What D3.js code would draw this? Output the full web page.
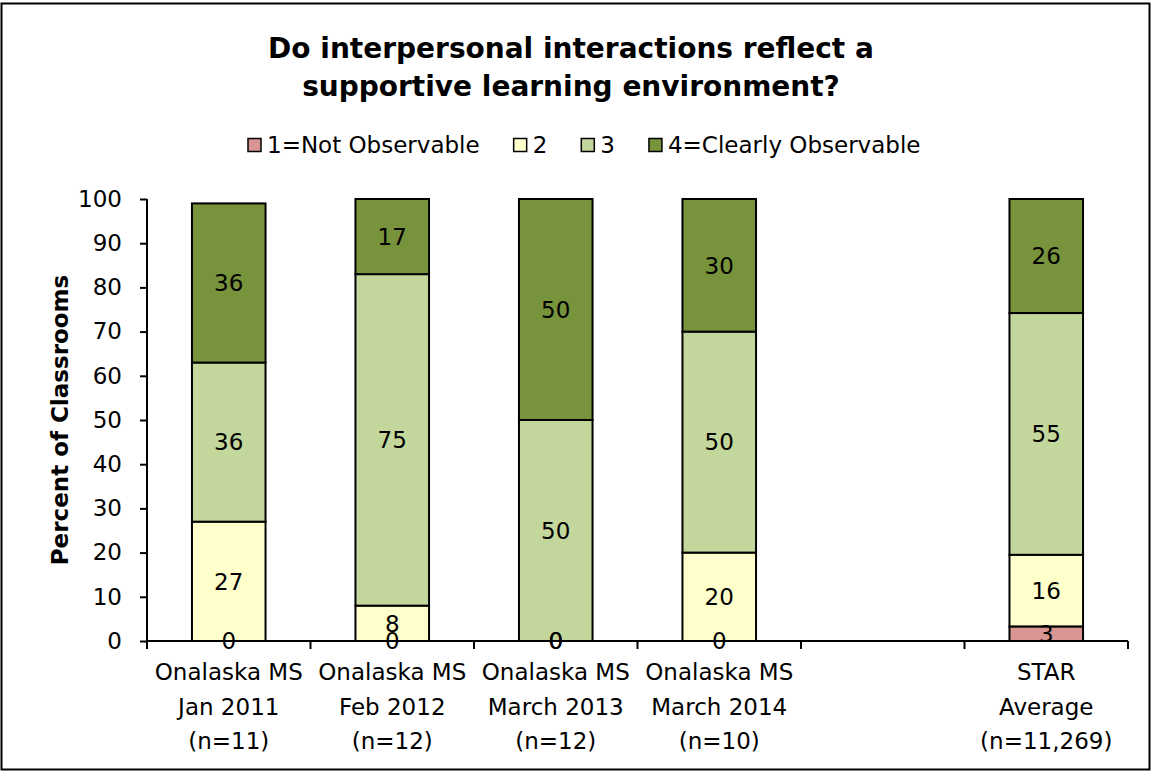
<!DOCTYPE html>
<html>
<head>
<meta charset="UTF-8">
<title>Supportive learning environment</title>
<script src="https://d3js.org/d3.v7.min.js"></script>
<style>
    body { margin: 0; background: white; }
    svg { display: block; }
    text { font-family: "DejaVu Sans", Verdana, sans-serif; fill: black; }
</style>
</head>
<body>
<svg id="chart" width="1152" height="771"></svg>
<script>
// カテゴリ（空のスロットを1つ含む）
const categories = [
    ["Onalaska MS", "Jan 2011", "(n=11)"],
    ["Onalaska MS", "Feb 2012", "(n=12)"],
    ["Onalaska MS", "March 2013", "(n=12)"],
    ["Onalaska MS", "March 2014", "(n=10)"],
    null,
    ["STAR", "Average", "(n=11,269)"]
];
const seriesNames = ["1=Not Observable", "2", "3", "4=Clearly Observable"];
const seriesColors = ["#D99594", "#FFFFCC", "#C3D69B", "#77933C"];

// 各系列の値（空スロットは null）
const notObservable = [0, 0, 0, 0, null, 3.3];
const level2 = [27, 8, 0, 20, null, 16.2];
const level3 = [36, 75, 50, 50, null, 54.7];
const clearlyObservable = [36, 17, 50, 30, null, 25.8];
const yTicks = [0, 10, 20, 30, 40, 50, 60, 70, 80, 90, 100];

const series = [notObservable, level2, level3, clearlyObservable];

const svg = d3.select("#chart");
const W = 1152, H = 771;
const margin = { left: 147, right: 24, top: 199, bottom: 130 };

// 外枠
svg.append("rect")
    .attr("x", 1.5).attr("y", 3.5)
    .attr("width", W - 4).attr("height", H - 5)
    .attr("fill", "none").attr("stroke", "black").attr("stroke-width", 2);

const x = d3.scaleBand()
    .domain(d3.range(categories.length))
    .range([margin.left, W - margin.right])
    .paddingInner(0.55).paddingOuter(0.275);
const xSlot = d3.scaleBand()
    .domain(d3.range(categories.length))
    .range([margin.left, W - margin.right]);
const y = d3.scaleLinear().domain([0, 100]).range([H - margin.bottom, margin.top]);

// タイトル
svg.append("text")
    .attr("text-anchor", "middle")
    .style("font-weight", "bold").style("font-size", "28px")
    .selectAll("tspan")
    .data(["Do interpersonal interactions reflect a", "supportive learning environment?"])
    .join("tspan")
    .attr("x", 571)
    .attr("y", (d, i) => 58 + i * 38)
    .text(d => d);

// 凡例（文字幅から並べる）
const legend = svg.append("g");
let lx = 248;
seriesNames.forEach((name, i) => {
    legend.append("rect")
        .attr("x", lx).attr("y", 138.5)
        .attr("width", 13).attr("height", 13)
        .attr("fill", seriesColors[i]).attr("stroke", "black").attr("stroke-width", 1.5);
    const t = legend.append("text")
        .attr("x", lx + 19).attr("y", 153)
        .style("font-size", "23px")
        .text(name);
    lx += 19 + t.node().getComputedTextLength() + 34;
});

// 棒
const stacked = categories.map((c, ci) => {
    let base = 0;
    return series.map((s, si) => {
        const v = s[ci];
        const seg = { ci, si, v, y0: base, y1: base + (v || 0) };
        base += v || 0;
        return seg;
    });
}).filter((segs, ci) => categories[ci] !== null);

const bars = svg.append("g");
stacked.forEach(segs => {
    segs.forEach(d => {
        if (d.v > 0) {
            bars.append("rect")
                .attr("x", x(d.ci))
                .attr("y", y(d.y1))
                .attr("width", x.bandwidth())
                .attr("height", y(d.y0) - y(d.y1))
                .attr("fill", seriesColors[d.si])
                .attr("stroke", "black").attr("stroke-width", 2);
        }
    });
});

// 値ラベル
stacked.forEach(segs => {
    segs.forEach(d => {
        if (d.v === null) return;
        bars.append("text")
            .attr("x", x(d.ci) + x.bandwidth() / 2)
            .attr("y", y((d.y0 + d.y1) / 2))
            .attr("dy", "0.36em")
            .attr("text-anchor", "middle")
            .style("font-size", "23px")
            .text(Math.round(d.v));
    });
});

// Y軸
const yAxis = svg.append("g")
    .attr("transform", `translate(${margin.left},0)`)
    .call(d3.axisLeft(y).tickValues(yTicks).tickSize(7).tickPadding(18));
yAxis.selectAll("path, line").attr("stroke", "black").attr("stroke-width", 2);
yAxis.select(".domain").attr("d", `M0,${y(100)}V${y(0)}`);
yAxis.selectAll("text").style("font-size", "23px").style("font-family", "DejaVu Sans, sans-serif").attr("fill", "black");

// X軸
const xAxis = svg.append("g").attr("transform", `translate(0,${y(0)})`);
xAxis.append("line")
    .attr("x1", margin.left).attr("x2", W - margin.right)
    .attr("stroke", "black").attr("stroke-width", 2);
const tickXs = xSlot.domain().map(i => xSlot(i)).concat([W - margin.right]);
xAxis.selectAll(".tk").data(tickXs).join("line")
    .attr("x1", d => d).attr("x2", d => d)
    .attr("y1", 0).attr("y2", 8)
    .attr("stroke", "black").attr("stroke-width", 2);

categories.forEach((c, i) => {
    if (!c) return;
    const t = xAxis.append("text")
        .attr("text-anchor", "middle")
        .style("font-size", "23px");
    t.selectAll("tspan").data(c).join("tspan")
        .attr("x", xSlot(i) + xSlot.bandwidth() / 2)
        .attr("y", (d, k) => 39 + k * 34.5)
        .text(d => d);
});

// Y軸タイトル
svg.append("text")
    .attr("transform", `translate(68,${(y(0) + y(100)) / 2}) rotate(-90)`)
    .attr("text-anchor", "middle")
    .style("font-weight", "bold").style("font-size", "23px")
    .text("Percent of Classrooms");
</script>
</body>
</html>
